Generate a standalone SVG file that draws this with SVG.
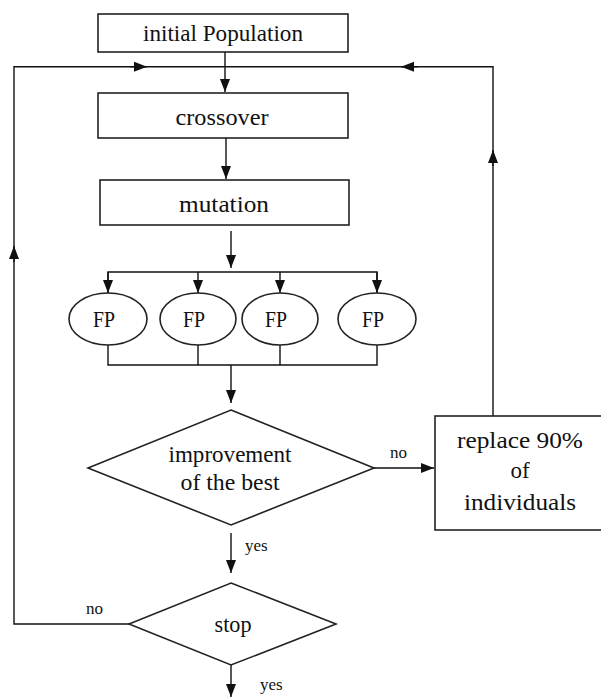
<svg xmlns="http://www.w3.org/2000/svg" width="601" height="698" viewBox="0 0 601 698" font-family="'Liberation Serif', 'DejaVu Serif', serif">
<style>
.box{fill:#fff;stroke:#222;stroke-width:1.6}
.ln{fill:none;stroke:#111;stroke-width:1.4}
text{font-family:'Liberation Serif','DejaVu Serif',serif;fill:#111}
.t{font-size:23px;text-anchor:middle}
.s{font-size:17px}
</style>
<defs>
<marker id="ah" markerUnits="userSpaceOnUse" markerWidth="14" markerHeight="11" refX="13" refY="5" orient="auto">
<path d="M0,0 L13,5 L0,10 Z" fill="#111"/>
</marker>
</defs>
<rect width="601" height="698" fill="#fff"/>
<g id="connectors" class="ln">
<path d="M225,52 V92" marker-end="url(#ah)"/>
<path d="M129,624 H14 V66.7 H225"/>
<path d="M14,262 V246" marker-end="url(#ah)"/>
<path d="M130,66.7 H147" marker-end="url(#ah)"/>
<path d="M493,416 V66.7 H225"/>
<path d="M493,166 V150" marker-end="url(#ah)"/>
<path d="M418,66.7 H401" marker-end="url(#ah)"/>
<path d="M226,138 V179" marker-end="url(#ah)"/>
<path d="M231,231 V268" marker-end="url(#ah)"/>
<path d="M108,293 V272 H377 V293"/>
<path d="M108,272 V293" marker-end="url(#ah)"/>
<path d="M198,272 V293" marker-end="url(#ah)"/>
<path d="M280,272 V293" marker-end="url(#ah)"/>
<path d="M377,272 V293" marker-end="url(#ah)"/>
<path d="M108,345 V365 H377 V345"/>
<path d="M198,345 V365"/>
<path d="M280,345 V365"/>
<path d="M231,365 V403" marker-end="url(#ah)"/>
<path d="M374,468 H434" marker-end="url(#ah)"/>
<path d="M231,533 V573" marker-end="url(#ah)"/>
<path d="M231,665 V697" marker-end="url(#ah)"/>
</g>
<g id="initial">
<rect class="box" x="98" y="14" width="250" height="38"/>
<text class="t" x="223" y="41" textLength="160" lengthAdjust="spacingAndGlyphs">initial Population</text>
</g>
<g id="crossover">
<rect class="box" x="98" y="93" width="250" height="45"/>
<text class="t" x="222" y="125" textLength="93" lengthAdjust="spacingAndGlyphs">crossover</text>
</g>
<g id="mutation">
<rect class="box" x="100" y="180" width="249" height="45"/>
<text class="t" x="224" y="212" textLength="90" lengthAdjust="spacingAndGlyphs">mutation</text>
</g>
<g id="fp1"><ellipse class="box" cx="108" cy="319" rx="39" ry="26"/><text class="t" x="104" y="327" textLength="22" lengthAdjust="spacingAndGlyphs">FP</text></g>
<g id="fp2"><ellipse class="box" cx="198" cy="319" rx="38" ry="26"/><text class="t" x="194" y="327" textLength="22" lengthAdjust="spacingAndGlyphs">FP</text></g>
<g id="fp3"><ellipse class="box" cx="280" cy="319" rx="38" ry="26"/><text class="t" x="276" y="327" textLength="22" lengthAdjust="spacingAndGlyphs">FP</text></g>
<g id="fp4"><ellipse class="box" cx="377" cy="319" rx="39" ry="26"/><text class="t" x="373" y="327" textLength="22" lengthAdjust="spacingAndGlyphs">FP</text></g>
<g id="improvement">
<polygon class="box" points="231,410 374,468 231,525 88,468"/>
<text class="t" x="230" y="462" textLength="123" lengthAdjust="spacingAndGlyphs">improvement</text>
<text class="t" x="230" y="490" textLength="99" lengthAdjust="spacingAndGlyphs">of the best</text>
</g>
<g id="replace">
<rect class="box" x="435" y="416" width="170" height="114"/>
<text class="t" x="520" y="448" textLength="126" lengthAdjust="spacingAndGlyphs">replace 90%</text>
<text class="t" x="520" y="478">of</text>
<text class="t" x="520" y="510" textLength="112" lengthAdjust="spacingAndGlyphs">individuals</text>
</g>
<g id="stop">
<polygon class="box" points="231,583 336,624 231,665 129,624"/>
<text class="t" x="233" y="632" textLength="37" lengthAdjust="spacingAndGlyphs">stop</text>
</g>
<g id="labels">
<text class="s" x="390" y="458">no</text>
<text class="s" x="245" y="551">yes</text>
<text class="s" x="86" y="614">no</text>
<text class="s" x="260" y="690">yes</text>
</g>
</svg>
